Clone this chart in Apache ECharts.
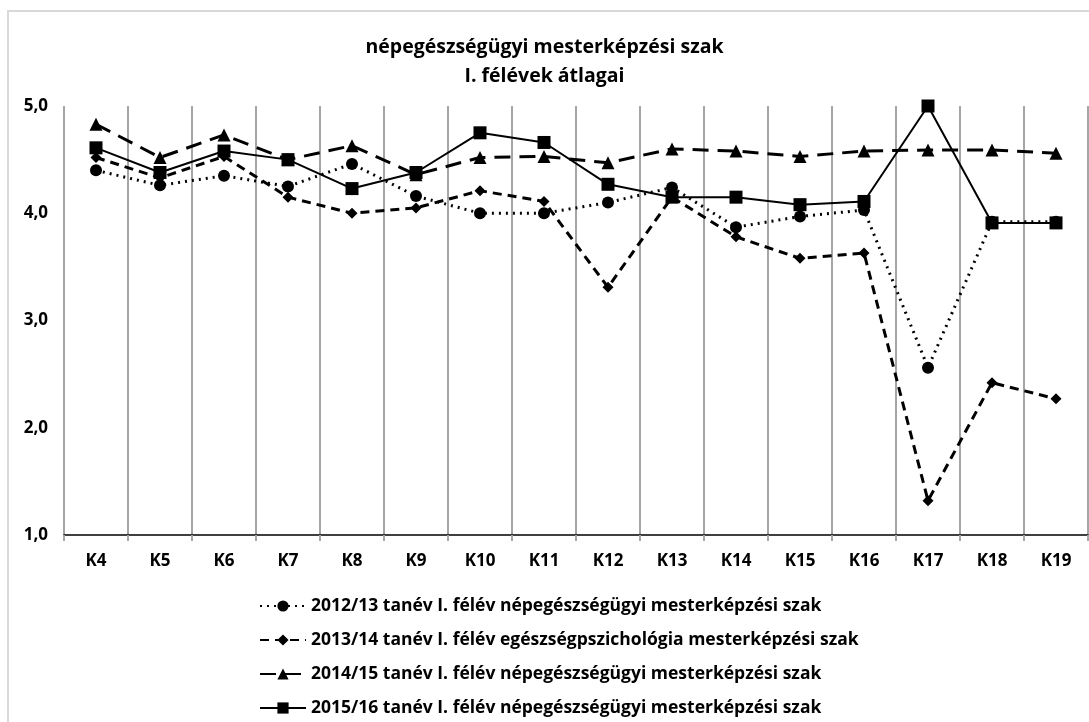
<!DOCTYPE html>
<html>
<head>
<meta charset="utf-8">
<script src="https://cdn.jsdelivr.net/npm/echarts@6/dist/echarts.min.js"></script>
<style>
  html, body { margin: 0; padding: 0; background: #fff; }
  #main { width: 1089px; height: 722px; }
</style>
</head>
<body>
<div id="main"></div>
<script>
const categories = ['K4', 'K5', 'K6', 'K7', 'K8', 'K9', 'K10', 'K11', 'K12', 'K13', 'K14', 'K15', 'K16', 'K17', 'K18', 'K19']
const seriesNames = [
  '2012/13 tanév I. félév népegészségügyi mesterképzési szak',
  '2013/14 tanév I. félév egészségpszichológia mesterképzési szak',
  '2014/15 tanév I. félév népegészségügyi mesterképzési szak',
  '2015/16 tanév I. félév népegészségügyi mesterképzési szak',
]
const data2012 = [4.40, 4.26, 4.35, 4.25, 4.46, 4.16, 4.00, 4.00, 4.10, 4.24, 3.87, 3.97, 4.03, 2.56, 3.92, 3.92]
const data2013 = [4.52, 4.33, 4.53, 4.15, 4.00, 4.05, 4.21, 4.11, 3.31, 4.15, 3.78, 3.58, 3.63, 1.32, 2.42, 2.27]
const data2014 = [4.83, 4.52, 4.73, 4.50, 4.63, 4.36, 4.52, 4.53, 4.47, 4.60, 4.58, 4.53, 4.58, 4.59, 4.59, 4.56]
const data2015 = [4.61, 4.38, 4.58, 4.50, 4.23, 4.38, 4.75, 4.66, 4.27, 4.15, 4.15, 4.08, 4.11, 5.00, 3.91, 3.91]

const font = '"Open Sans", sans-serif'

const chart = echarts.init(document.getElementById('main'))

function lineSeries(name, data, dash, width, symbol, size) {
  return {
    name: name,
    type: 'line',
    data: data,
    symbol: symbol,
    symbolSize: size,
    showAllSymbol: true,
    lineStyle: { color: '#000', width: width, type: dash },
    itemStyle: { color: '#000' },
  }
}

const option = {
  backgroundColor: '#fff',
  animation: false,
  graphic: [
    {
      type: 'rect',
      shape: { x: 8, y: 11, width: 1200, height: 900 },
      style: { fill: 'none', stroke: '#d9d9d9', lineWidth: 2 },
      silent: true,
    },
  ],
  title: {
    text: 'népegészségügyi mesterképzési szak\nI. félévek átlagai',
    left: 'center',
    top: 28,
    textStyle: {
      fontFamily: font,
      fontSize: 19.5,
      fontWeight: 'bold',
      color: '#000',
      lineHeight: 29,
    },
  },
  legend: {
    orient: 'vertical',
    left: 254,
    top: 592,
    height: 135,
    itemWidth: 46,
    itemHeight: 14,
    itemGap: 16,
    textStyle: { fontFamily: font, fontSize: 17.5, fontWeight: 'bold', color: '#000' },
    data: seriesNames,
  },
  grid: { left: 64, right: 1, top: 106, bottom: 187 },
  xAxis: {
    type: 'category',
    data: categories,
    boundaryGap: true,
    axisLine: { lineStyle: { color: '#000', width: 1.5 } },
    axisTick: { show: true, length: 6, lineStyle: { color: '#a6a6a6', width: 2 } },
    splitLine: { show: true, lineStyle: { color: '#a6a6a6', width: 2 } },
    axisLabel: { margin: 18, fontFamily: font, fontSize: 17, fontWeight: 'bold', color: '#000' },
  },
  yAxis: {
    type: 'value',
    min: 1,
    max: 5,
    interval: 1,
    axisLine: { show: false },
    axisTick: { show: false },
    splitLine: { show: false },
    axisLabel: {
      margin: 16,
      fontFamily: font,
      fontSize: 17,
      fontWeight: 'bold',
      color: '#000',
      formatter: (v) => v.toFixed(1).replace('.', ','),
    },
  },
  series: [
    lineSeries(seriesNames[0], data2012, [2, 5], 3, 'circle', 12),
    lineSeries(seriesNames[1], data2013, [9, 6], 3, 'diamond', 11),
    lineSeries(seriesNames[2], data2014, [16, 9], 3, 'triangle', 13),
    lineSeries(seriesNames[3], data2015, 'solid', 2, 'rect', 13),
  ],
}

chart.setOption(option)
</script>
</body>
</html>
